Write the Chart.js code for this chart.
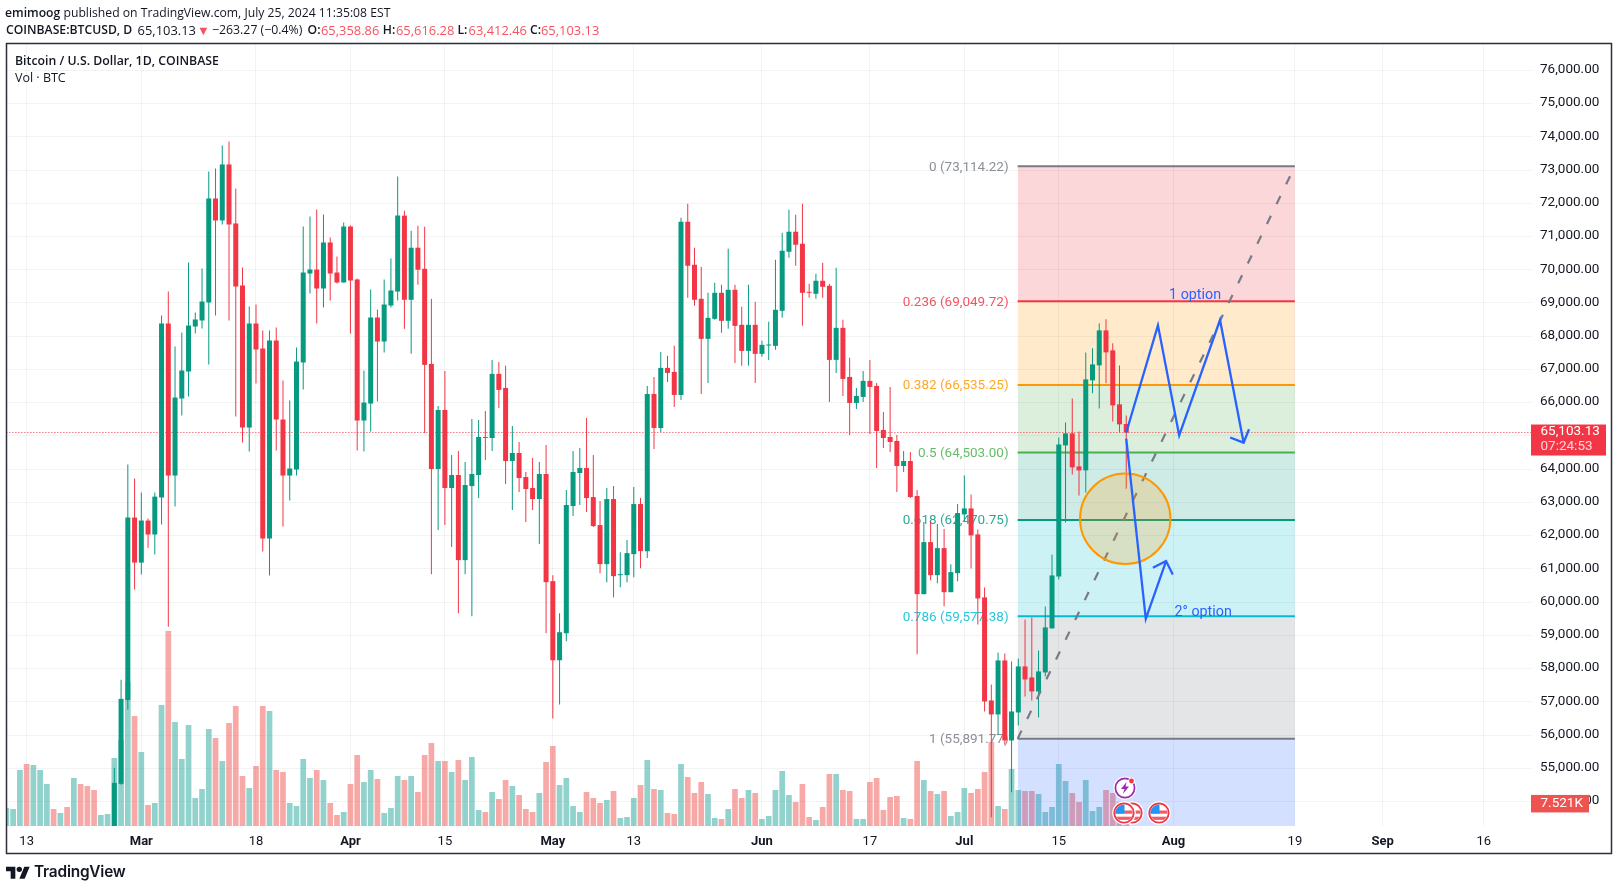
<!DOCTYPE html>
<html>
<head>
<meta charset="utf-8">
<title>BTCUSD</title>
<script src="https://cdn.jsdelivr.net/npm/chart.js@4/dist/chart.umd.js"></script>
<style>
html,body{margin:0;padding:0;background:#fff;width:1618px;height:891px;overflow:hidden}
#wrap{position:relative;width:1618px;height:891px}
canvas{position:absolute;left:0;top:0}
.t{position:absolute;white-space:nowrap;color:#131722;font-family:"Open Sans",sans-serif;font-size:12.5px;line-height:16px}
.t b{font-weight:600}
.l2{top:21.5px;font-size:12.9px}
.l2b{top:21.5px;font-size:12.2px;font-weight:600}
.r{color:#f7525f}
.icon{position:absolute}
</style>
</head>
<body>
<div id="wrap">
<canvas id="c" width="1618" height="891"></canvas>
<div class="t" style="left:5px;top:5px;font-size:12.2px"><b>emimoog</b> published on TradingView.com, July 25, 2024 11:35:08 EST</div>
<div class="t l2b" style="left:6px">COINBASE:BTCUSD, D</div>
<div class="t l2" style="left:137.6px">65,103.13</div>
<div class="t l2 r" style="left:197px">▼</div>
<div class="t l2" style="left:212px;font-size:12.3px">−263.27 (−0.4%)</div>
<div class="t l2b" style="left:307.6px">O:</div><div class="t l2 r" style="left:321px">65,358.86</div>
<div class="t l2b" style="left:382.8px">H:</div><div class="t l2 r" style="left:396px">65,616.28</div>
<div class="t l2b" style="left:457.5px">L:</div><div class="t l2 r" style="left:468.6px">63,412.46</div>
<div class="t l2b" style="left:530px">C:</div><div class="t l2 r" style="left:541px">65,103.13</div>
<div class="t" style="left:15px;top:53px;font-size:12.3px"><b>Bitcoin / U.S. Dollar, 1D, COINBASE</b></div>
<div class="t" style="left:15px;top:70px">Vol · BTC</div>
<svg class="icon" style="left:6px;top:863.5px" width="24" height="16" viewBox="0 0 36 24"><path fill="#131722" d="M14 22H7V11H0V4h14v18zM28 22h-8l7.5-18h8L28 22z"/><circle fill="#131722" cx="20" cy="8" r="4"/></svg>
<div class="t" style="left:34px;top:863px;font-family:Inter,sans-serif;font-weight:600;font-size:15.4px;line-height:18px;letter-spacing:-0.2px">TradingView</div>
<svg class="icon" style="left:1113px;top:776px" width="24" height="24" viewBox="0 0 24 24"><circle cx="12" cy="12" r="11.5" fill="#fff"/><circle cx="12" cy="12" r="9.6" fill="#fff" stroke="#9c27b0" stroke-width="1.7"/><path d="M13.5 6 8 13h3.5l-1.5 5 6-7.5h-3.5z" fill="#9c27b0"/><circle cx="18.5" cy="5" r="3.2" fill="#fff"/><circle cx="18.5" cy="5" r="2.4" fill="#f23645"/></svg>
<svg class="icon" style="left:1120px;top:801px" width="24" height="24" viewBox="0 0 24 24"><defs><clipPath id="fc"><circle cx="12" cy="12" r="8.6"/></clipPath></defs><circle cx="12" cy="12" r="11.8" fill="#fff"/><circle cx="12" cy="12" r="9.7" fill="#fff" stroke="#f23645" stroke-width="1.8"/><g clip-path="url(#fc)"><rect x="3" y="9.5" width="18" height="3.2" fill="#f45b69"/><rect x="3" y="15.7" width="18" height="3.2" fill="#f45b69"/><rect x="3" y="3" width="9.5" height="9.5" fill="#2196f3"/></g></svg>
<svg class="icon" style="left:1112px;top:801px" width="24" height="24" viewBox="0 0 24 24"><circle cx="12" cy="12" r="11.8" fill="#fff"/><circle cx="12" cy="12" r="9.7" fill="#fff" stroke="#f23645" stroke-width="1.8"/><g clip-path="url(#fc)"><rect x="3" y="9.5" width="18" height="3.2" fill="#f45b69"/><rect x="3" y="15.7" width="18" height="3.2" fill="#f45b69"/><rect x="3" y="3" width="9.5" height="9.5" fill="#2196f3"/></g></svg>
<svg class="icon" style="left:1147px;top:801px" width="24" height="24" viewBox="0 0 24 24"><circle cx="12" cy="12" r="11.8" fill="#fff"/><circle cx="12" cy="12" r="9.7" fill="#fff" stroke="#f23645" stroke-width="1.8"/><g clip-path="url(#fc)"><rect x="3" y="9.5" width="18" height="3.2" fill="#f45b69"/><rect x="3" y="15.7" width="18" height="3.2" fill="#f45b69"/><rect x="3" y="3" width="9.5" height="9.5" fill="#2196f3"/></g></svg>
</div>
<script>
// Days are counted from Feb 10 2024 = 0.
const tickDays   = [3,20,37,51,65,81,93,112,128,142,156,173,191,204,219];
const tickLabels = ['13','Mar','18','Apr','15','May','13','Jun','17','Jul','15','Aug','19','Sep','16'];
const monthLabels = ['Mar','Apr','May','Jun','Jul','Aug','Sep'];
const priceTicks = [54000,55000,56000,57000,58000,59000,60000,61000,62000,63000,64000,65000,66000,67000,68000,69000,70000,71000,72000,73000,74000,75000,76000];

const candleStartDay = 16; // Feb 26
const opens = [
51730,54534,57060,62545,
61190,62455,62035,63147,68383,63809,66126,66938,68292,68473,69015,72144,71482,73167,71392,69526,65253,68383,67630,61913,67871,65494,63809,63990,67209,69887,70007,69436,70820,69917,69616,
71301,69707,65464,65975,68563,67841,68924,69345,71626,69096,70662,70029,67168,64005,65782,63433,63825,61264,63493,63825,64969,64939,66867,66445,64246,64487,63764,63433,63102,63855,
60632,58252,59066,62891,63885,64035,63162,62319,61144,63102,60812,60812,61445,62951,61535,66264,65240,67047,66927,66234,71445,70150,69126,67921,68523,69306,68463,69397,68343,67559,68343,
67469,67720,67710,68764,70541,71144,70782,69327,69276,69668,69517,67288,68252,66776,65993,66174,66656,66505,65180,64969,64849,64096,64246,63192,60240,61807,60812,61626,60300,60873,
62640,62820,62038,60142,57043,56622,58247,55840,56682,58066,57735,57314,57886,59210,60774,64716,65077,64084,63964,66672,67123,68176,67575,65950,65358.86];
const highs = [
55015,57663,64140,63720,
63300,62515,63300,68623,69345,67690,68112,70218,68714,70037,72956,73046,73739,73859,72445,70068,68894,68954,68172,68172,68262,66667,66066,67660,71301,71602,71813,71662,70970,70399,71422,
71331,69737,66968,69406,68804,69707,70338,72806,71776,71174,71324,71294,69126,65903,66957,64427,64548,64216,65511,65481,65752,67288,67228,67108,65301,64819,63915,64337,64216,64728,
60812,59668,63373,64548,64638,65541,64427,63041,63433,63493,61505,61867,63463,63132,66505,66776,67529,67409,67710,71565,71987,70662,70090,69306,69608,69547,70632,69547,68885,69547,69035,
67861,68433,70300,71114,71806,71656,71987,69577,69879,70210,69577,70059,68493,67349,66445,66957,67288,66596,65722,66475,65029,64548,64517,63373,62409,62439,62349,62198,61144,62951,
63813,63242,62189,60443,57524,58488,58457,58217,58307,59480,59541,58548,59872,61436,64957,65408,66130,65137,67514,67635,68387,68507,67785,67123,65616.28];
const lows = [
50900,54504,56760,60380,
60830,61640,61430,62335,59260,62876,65614,66186,68082,68232,67149,68623,71361,68473,65584,64802,64531,66577,61522,60800,64561,62274,63057,63809,66397,69285,68383,68864,69075,69586,69616,
68082,64561,64531,65133,66035,67510,68864,69075,68222,67469,69547,65089,60843,62168,62319,61656,59668,60843,59578,63132,64276,64548,65843,63553,62770,63313,62409,62770,61746,59066,
56500,56920,58825,62590,62921,62710,62258,60873,60602,60150,60451,60602,60752,61023,61325,64608,65120,66626,65873,66084,69156,68915,66264,66596,68493,68102,68222,67198,67108,67108,66596,
67379,67288,67590,68553,70361,70120,68312,69156,69126,69156,66023,66897,66204,65029,65813,66023,65059,64035,64638,64517,63313,63915,63132,58433,60240,60662,60572,59879,60300,60632,
62429,61015,59330,56712,53530,56020,55720,54280,56291,57163,57043,56532,57765,59210,60684,62399,63843,63212,63302,66281,65829,66582,65438,65107,63412.46];
const closes = [
54564,57091,62545,61190,
62455,62035,63175,68383,63809,66156,66968,68322,68503,69045,72144,71482,73167,71361,69496,65253,68383,67600,61913,67871,65494,63809,64020,67239,69917,70007,69436,70820,69887,69616,71301,
69676,65464,66005,68563,67841,68954,69376,71632,69096,70662,70000,67138,64005,65782,63433,63825,61264,63523,63855,64969,64939,66867,66385,64246,64487,63734,63403,63102,63855,60602,
58252,59096,62921,63915,64035,63132,62288,61144,63102,60782,60843,61475,62951,61535,66264,65240,67047,66897,66234,71445,70120,69096,67921,68553,69306,68463,69397,68312,67559,68343,67469,
67740,67740,68794,70571,71144,70752,69306,69306,69668,69487,67288,68252,66716,65993,66204,66656,66475,65150,64939,64818,64096,64246,63162,60240,61807,60812,61626,60300,60903,62680,
62820,62008,60112,57013,56622,58247,55840,56712,58066,57675,57314,57916,59240,60804,64746,65077,64054,63964,66702,67153,68176,67514,65920,65348,65103.13];

// Volume in thousands of BTC, one per day from day 0.
const volumes = [
6,5.67,18.67,20.67,20.33,18.67,14,5.67,4.33,6.33,16,14,13.33,12,3.67,4,22.67,28.67,48,36.67,
24.67,7,7.67,40.33,65,34.67,22.33,33.67,9.33,12.33,32.33,29.33,21.67,34.33,40,16.67,12.67,20,40,38.33,18.67,18,7.67,6.67,22.33,16,18.67,15.33,7.67,3.67,4.67,
14,23.67,14.67,18.67,15.67,4.33,6,16.67,15.33,16.67,11.33,23.67,27.67,21.67,21.67,18,22,15.33,23,5.33,4.67,11.33,9,15.33,13.33,10.33,5.67,4.67,11,21.33,
26.67,13.67,16,6.67,4.67,11.33,9.33,7.67,8.67,11.67,2.67,3,9.33,13.67,22,12.33,12,4.33,4,20.67,16.33,11,14.67,10.67,2.67,2.33,5.67,12.33,9.33,12,11,
2.33,3.33,12,18.33,10.33,8,14,3,2,6.33,17.33,17.33,12,11.67,2.33,2.33,14.67,16,5.33,9.67,10,2.67,2.33,21.67,15.33,11.67,10.67,11.67,3.33,4.67,
12.67,11,12.33,18,28,6.67,5.67,19,12,11.67,11.67,10.67,4.67,6.33,20.67,15,11,8,15.33,5,6.33,12,11,8,7.521];
const volumeSides = [
 'uuud','uuud','ud','ud','dd','uuuuu','d',
 'uduud','uuuuuu','d','u','ddd','u','dd','u','dd','uuuu','d','u','dd','u',
 'dd','uu','d','uuu','d','u','ddd','u','d','u','d','uuu','d','u','dd','u','ddd','u','d',
 'd','uuuu','ddd','u','d','uuu','d','u','d','u','dd','u','ddd','uu','d','u','dd','u','d',
 'uuuuu','ddd','u','dd','u','dd','uu','ddddd','u','dd','u','d','u','d','uu',
 'u','dddd','u','d','uu','dd','uuuuu','dd','uuu','dddd'].join('');

const fibRatios = ['0','0.236','0.382','0.5','0.618','0.786','1'];
const fibPrices = [73114.22,69049.72,66535.25,64503.00,62470.75,59577.38,55891.77];
const fibColors = ['#787b86','#f23645','#ff9800','#4caf50','#089981','#00bcd4','#787b86'];
const fibZoneColors = ['rgba(242,54,69,.2)','rgba(255,152,0,.2)','rgba(76,175,80,.2)','rgba(8,153,129,.2)','rgba(0,188,212,.2)','rgba(120,123,134,.2)','rgba(41,98,255,.2)'];
const fibStartDay = 149.9, fibEndDay = 191;
const fibBottomPrice = 53266;
const lastPrice = 65103.13;
const lastVolume = 7.521;

const option1Days   = [166,170.7,173.85,179.9,183.4];
const option1Prices = [65103,68327,65017,68488,64797];
const option1HeadDays   = [181.4,183.4,184.2];
const option1HeadPrices = [64953,64797,65200];
const option2Days   = [166,168.9,171.9];
const option2Prices = [64917,59500,61236];
const option2HeadDays   = [169.95,171.9,172.9];
const option2HeadPrices = [61035,61236,60834];
const noteTexts  = ['1 option','2° option'];
const noteDays   = [176.2,177.4];
const notePrices = [69230,59690];
const circleDay = 165.85, circlePrice = 62510, circleRadius = 45.2;

const GREEN='#089981', RED='#f23645';
const UI='Roboto, sans-serif';
const up = i => closes[i] >= opens[i];
const pts = (xs,ys) => xs.map((x,i)=>({x,y:ys[i]}));
const fmt = v => v.toLocaleString('en-US',{minimumFractionDigits:2,maximumFractionDigits:2});

const datasets = [];
datasets.push({type:'bar',label:'volume',yAxisID:'yv',order:100,grouped:false,barThickness:5.7,inflateAmount:0,borderWidth:0,
  data:volumes.map((v,i)=>({x:i,y:v})),
  backgroundColor:c=>volumeSides[c.dataIndex]==='d'?'rgba(239,83,80,.5)':'rgba(38,166,154,.5)'});
fibPrices.forEach((p,i)=>{
  const target = i<fibPrices.length-1 ? fibPrices[i+1] : fibBottomPrice;
  datasets.push({type:'line',label:'fib'+fibRatios[i],yAxisID:'y',order:60-i,pointRadius:0,borderWidth:2,borderColor:fibColors[i],
    data:pts([fibStartDay,fibEndDay],[p,p]),
    fill:{target:{value:target},above:fibZoneColors[i],below:fibZoneColors[i]}});
});
datasets.push({type:'line',label:'last',yAxisID:'y',order:40,pointRadius:0,borderWidth:1,borderColor:RED,borderDash:[1,2],fill:false,
  data:pts([0,226],[lastPrice,lastPrice])});
const dayList = opens.map((_,i)=>candleStartDay+i);
datasets.push({type:'bar',label:'wicks',yAxisID:'y',order:30,grouped:false,barThickness:1,inflateAmount:0,borderWidth:0,
  data:dayList.map((d,i)=>({x:d,y:[lows[i],highs[i]]})),
  backgroundColor:c=>up(c.dataIndex)?GREEN:RED});
datasets.push({type:'bar',label:'bodies',yAxisID:'y',order:29,grouped:false,barThickness:5,inflateAmount:0,borderWidth:0,minBarLength:1,
  data:dayList.map((d,i)=>({x:d,y:[opens[i],closes[i]]})),
  backgroundColor:c=>up(c.dataIndex)?GREEN:RED});
datasets.push({type:'line',label:'trend',yAxisID:'y',order:20,pointRadius:0,borderWidth:2.2,borderColor:'#787b86',borderDash:[9,13],fill:false,
  data:pts([fibStartDay,fibEndDay],[fibPrices[6],fibPrices[0]])});
datasets.push({type:'bubble',label:'circle',yAxisID:'y',order:19,borderWidth:2,borderColor:'#ff9800',backgroundColor:'rgba(255,152,0,.2)',
  data:[{x:circleDay,y:circlePrice,r:circleRadius}]});
[[option1Days,option1Prices],[option1HeadDays,option1HeadPrices],[option2Days,option2Prices],[option2HeadDays,option2HeadPrices]].forEach((a,i)=>{
  datasets.push({type:'line',label:'opt'+i,yAxisID:'y',order:10-i,pointRadius:0,borderWidth:2.3,borderColor:'#2962ff',fill:false,data:pts(a[0],a[1])});
});

const overlay = {
  id:'overlay',
  beforeDatasetDraw(chart,args){
    if(chart.data.datasets[args.index].label!=='wicks') return;
    const ctx=chart.ctx, x=chart.scales.x, y=chart.scales.y;
    ctx.save();
    ctx.font='13.5px '+UI; ctx.textAlign='right'; ctx.textBaseline='middle';
    fibPrices.forEach((p,i)=>{
      ctx.fillStyle=fibColors[i];
      ctx.globalAlpha=.85;
      ctx.fillText(fibRatios[i]+' ('+fmt(p)+')',x.getPixelForValue(fibStartDay)-9,y.getPixelForValue(p)+1);
    });
    ctx.restore();
  },
  afterDraw(chart){
    const ctx=chart.ctx, x=chart.scales.x, y=chart.scales.y, v=chart.scales.yv;
    ctx.save();
    ctx.font='14.3px '+UI; ctx.textAlign='center'; ctx.textBaseline='middle'; ctx.fillStyle='#2962ff';
    noteTexts.forEach((t,i)=>ctx.fillText(t,x.getPixelForValue(noteDays[i]),y.getPixelForValue(notePrices[i])));
    // price badge
    const py=y.getPixelForValue(lastPrice);
    ctx.fillStyle=RED;
    ctx.fillRect(1531,py-8,75,31);
    ctx.textAlign='left'; ctx.font='13.5px '+UI;
    ctx.fillStyle='#fff'; ctx.fillText(fmt(lastPrice),1540.5,py-0.5);
    ctx.fillStyle='rgba(255,255,255,.8)'; ctx.fillText('07:24:53',1540.5,py+14.5);
    // volume badge
    const vy=v.getPixelForValue(lastVolume);
    ctx.fillStyle='#ef5350';
    ctx.fillRect(1531,vy-8.5,58,17.5);
    ctx.fillStyle='#fff'; ctx.fillText(lastVolume.toFixed(3)+'K',1540.5,vy+0.5);
    // frame
    ctx.strokeStyle='#2a2e39'; ctx.lineWidth=1.5;
    ctx.strokeRect(6.5,43.5,1605,810);
    ctx.restore();
  }
};

new Chart(document.getElementById('c'),{
  data:{datasets},
  plugins:[overlay],
  options:{
    responsive:false,animation:false,devicePixelRatio:1,
    layout:{autoPadding:false,padding:{left:7,top:44,right:6,bottom:38}},
    plugins:{legend:{display:false},tooltip:{enabled:false},title:{display:false}},
    scales:{
      x:{type:'linear',position:'bottom',min:0.09,max:226,offset:false,
        grid:{offset:false,color:'rgba(42,46,57,.06)',drawTicks:false},border:{display:false},
        afterBuildTicks:s=>{s.ticks=tickDays.map(value=>({value}));},
        afterFit:s=>{s.height=27;},
        ticks:{autoSkip:false,maxRotation:0,minRotation:0,padding:8,color:'#131722',
          callback:v=>tickLabels[tickDays.indexOf(v)],
          font:c=>({family:UI,size:13,weight:(c.tick&&monthLabels.includes(c.tick.label))?'bold':'normal'})}},
      y:{type:'linear',position:'right',min:53266,max:76791,
        grid:{color:'rgba(42,46,57,.06)',drawTicks:false},border:{display:false},
        afterBuildTicks:s=>{s.ticks=priceTicks.map(value=>({value}));},
        afterFit:s=>{s.width=81;},
        ticks:{autoSkip:false,padding:9,labelOffset:-0.6,color:'#131722',font:{family:UI,size:13.5},callback:v=>fmt(v)}},
      yv:{type:'linear',display:false,min:0,max:260.67}
    }
  }
});
</script>
</body>
</html>
